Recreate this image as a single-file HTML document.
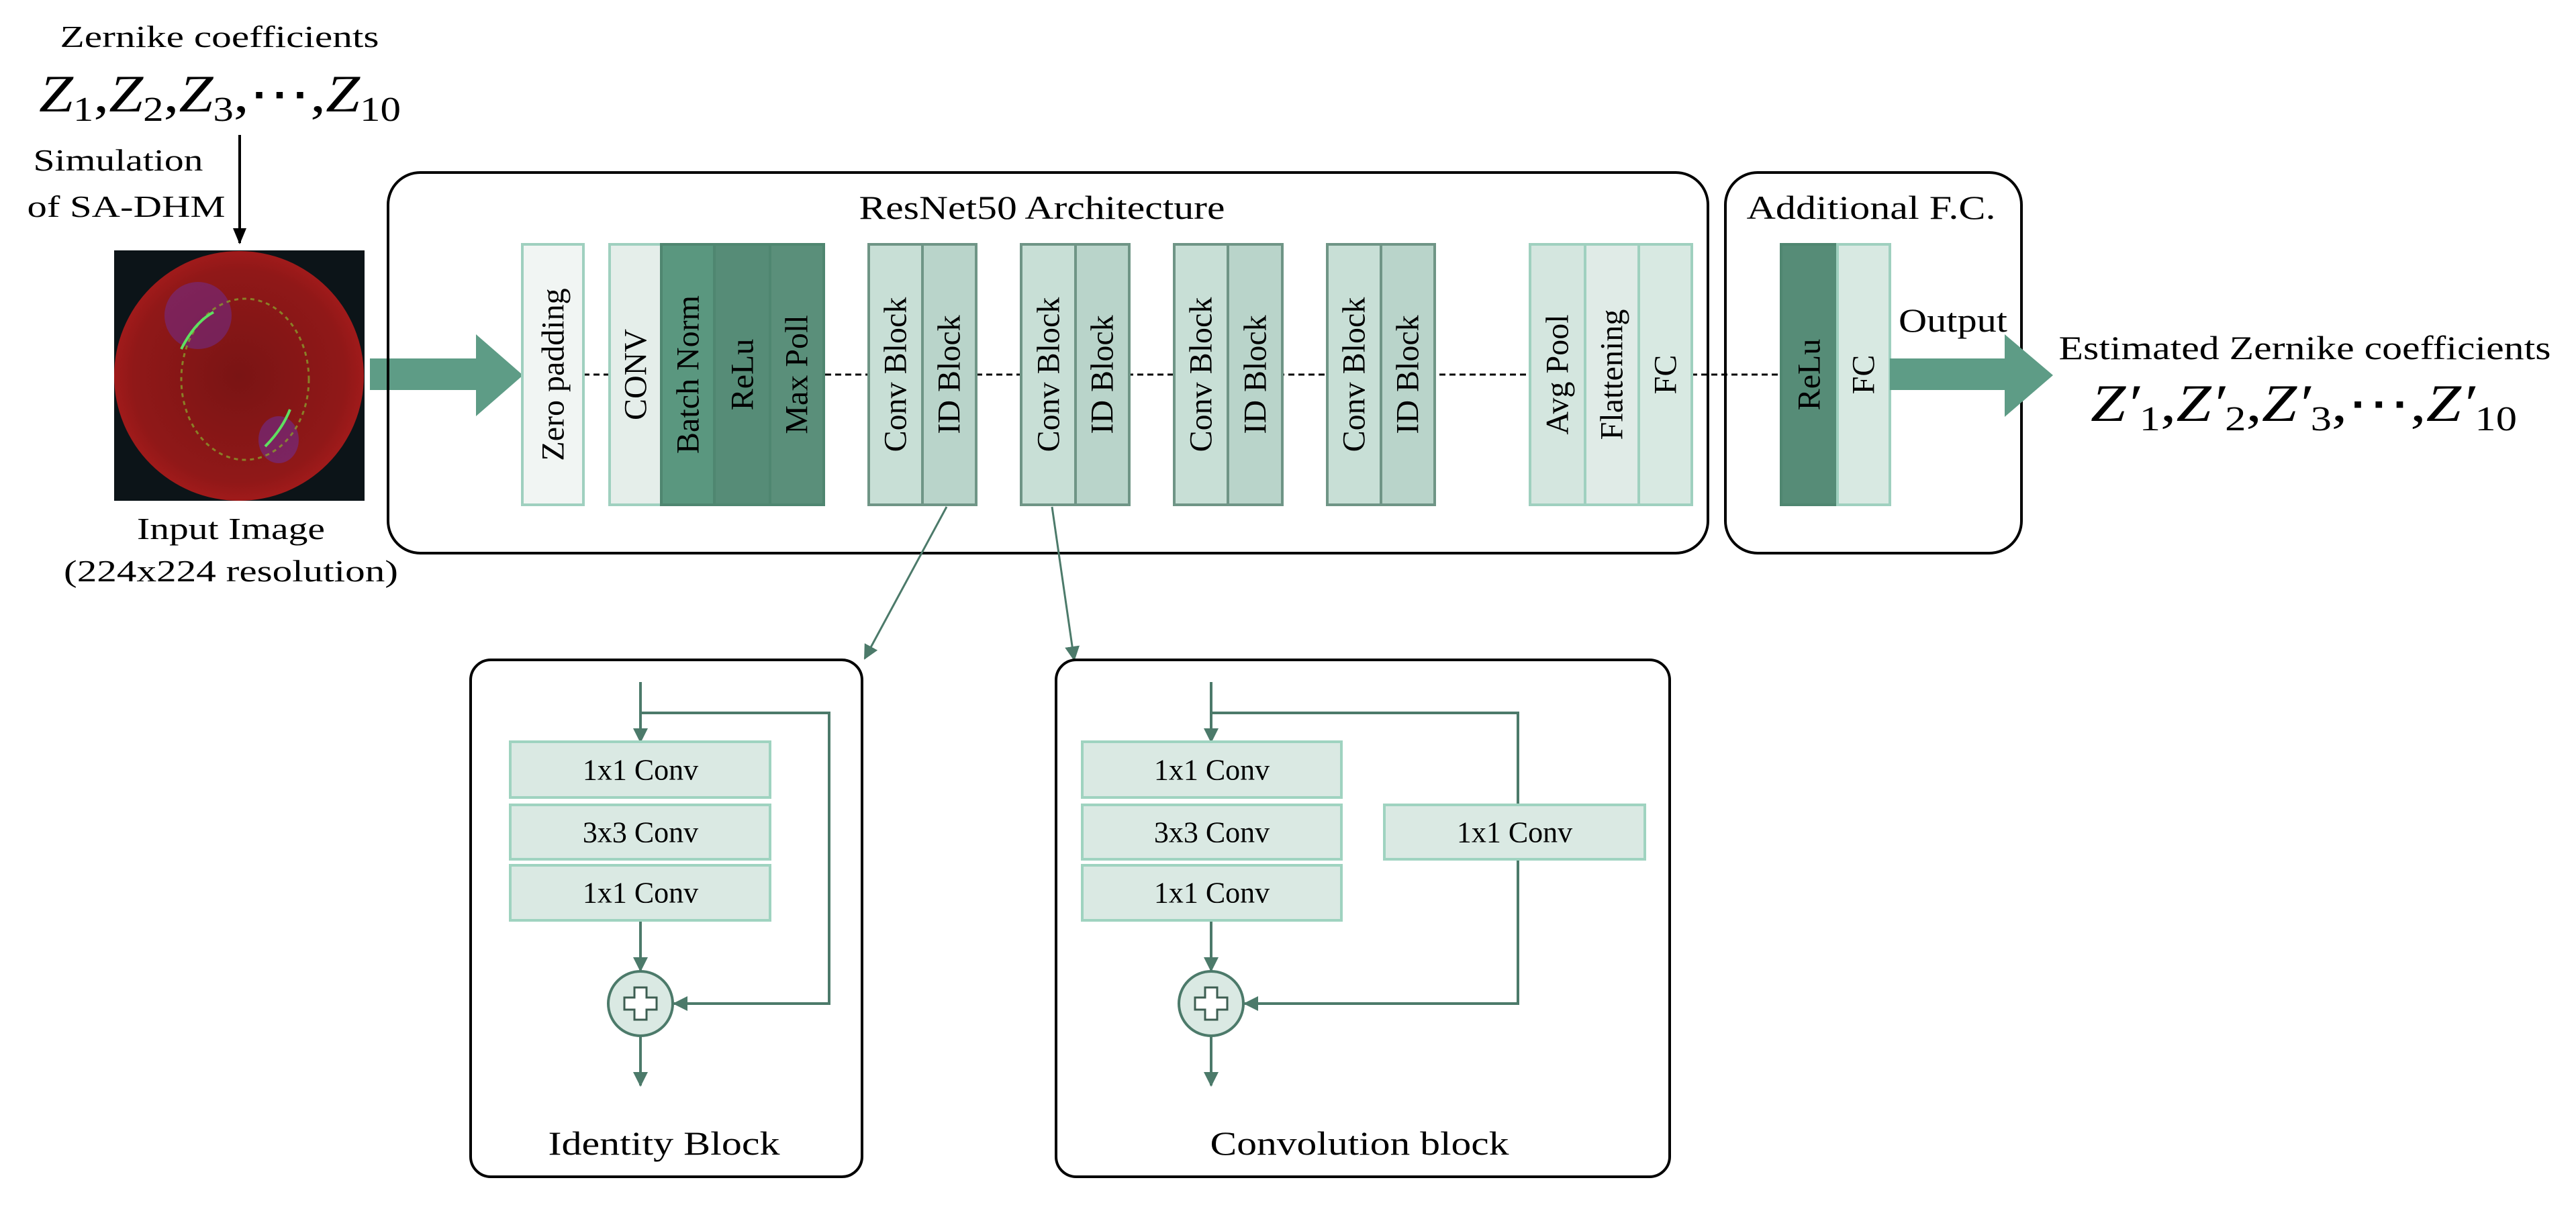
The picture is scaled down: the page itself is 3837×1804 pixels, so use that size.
<!DOCTYPE html>
<html><head><meta charset="utf-8"><style>html,body{margin:0;padding:0;background:#fff}svg{display:block}</style></head>
<body>
<svg width="3837" height="1804" viewBox="0 0 3837 1804" xmlns="http://www.w3.org/2000/svg" style="font-family:'Liberation Serif',serif">
<defs>
<marker id="ahb" markerWidth="22" markerHeight="22" refX="20" refY="11" orient="auto" markerUnits="userSpaceOnUse" viewBox="0 0 22 22"><path d="M0,0 L22,11 L0,22 z" fill="#4c7a6a"/></marker>
<marker id="ahk" markerWidth="24" markerHeight="24" refX="22" refY="12" orient="auto" markerUnits="userSpaceOnUse" viewBox="0 0 24 24"><path d="M0,2 L24,12 L0,22 z" fill="#000"/></marker>
<radialGradient id="rg" cx="50%" cy="50%" r="50%"><stop offset="0" stop-color="#7a1414"/><stop offset="0.85" stop-color="#901818"/><stop offset="1" stop-color="#a01a1a"/></radialGradient>
</defs>

<text x="327" y="70" font-size="46" text-anchor="middle" textLength="475" lengthAdjust="spacingAndGlyphs">Zernike coefficients</text>
<text x="58" y="166" font-size="78" textLength="539" lengthAdjust="spacingAndGlyphs"><tspan font-style="italic">Z</tspan><tspan font-size="52" dy="14">1</tspan><tspan dy="-14">,</tspan><tspan font-style="italic">Z</tspan><tspan font-size="52" dy="14">2</tspan><tspan dy="-14">,</tspan><tspan font-style="italic">Z</tspan><tspan font-size="52" dy="14">3</tspan><tspan dy="-14">,⋯,</tspan><tspan font-style="italic">Z</tspan><tspan font-size="52" dy="14">10</tspan></text>
<line x1="357" y1="201" x2="357" y2="362" stroke="#000" stroke-width="4" marker-end="url(#ahk)"/>
<text x="176" y="254" font-size="46" text-anchor="middle" textLength="253" lengthAdjust="spacingAndGlyphs">Simulation</text>
<text x="188" y="323" font-size="46" text-anchor="middle" textLength="295" lengthAdjust="spacingAndGlyphs">of SA-DHM</text>

<rect x="170" y="373" width="373" height="373" fill="#0c1418"/>
<ellipse cx="356" cy="560" rx="186" ry="186" fill="url(#rg)"/>
<ellipse cx="295" cy="470" rx="50" ry="50" fill="#6a30a8" opacity="0.45"/>
<ellipse cx="415" cy="655" rx="30" ry="35" fill="#6a30a8" opacity="0.5"/>
<ellipse cx="365" cy="565" rx="95" ry="120" fill="none" stroke="#8a9a2a" stroke-width="3" stroke-dasharray="6 6" opacity="0.8"/>
<path d="M270,520 Q290,480 318,465" fill="none" stroke="#5fe060" stroke-width="4"/>
<path d="M395,665 Q420,640 432,610" fill="none" stroke="#5fe060" stroke-width="4"/>
<text x="344" y="803" font-size="46" text-anchor="middle" textLength="280" lengthAdjust="spacingAndGlyphs">Input Image</text>
<text x="344" y="866" font-size="46" text-anchor="middle" textLength="498" lengthAdjust="spacingAndGlyphs">(224x224 resolution)</text>

<polygon points="551,534 709,534 709,498 779,559 709,620 709,581 551,581" fill="#5e9c86"/>

<rect x="578" y="257" width="1966" height="567" rx="48" fill="none" stroke="#000" stroke-width="4"/>
<rect x="2570" y="257" width="441" height="567" rx="48" fill="none" stroke="#000" stroke-width="4"/>
<text x="1552" y="326" font-size="50" text-anchor="middle" textLength="545" lengthAdjust="spacingAndGlyphs">ResNet50 Architecture</text>
<text x="2787" y="326" font-size="50" text-anchor="middle" textLength="371" lengthAdjust="spacingAndGlyphs">Additional F.C.</text>

<line x1="869" y1="558" x2="2653" y2="558" stroke="#000" stroke-width="3" stroke-dasharray="9 6"/>

<g stroke-width="4">
<rect x="778" y="364" width="91" height="388" fill="#f1f5f3" stroke="#9fd0bf"/>
<rect x="908" y="364" width="77" height="388" fill="#e5eeea" stroke="#9fd0bf"/>
<rect x="985" y="364" width="79" height="388" fill="#5a977f" stroke="#4f8670"/>
<rect x="1064" y="364" width="83" height="388" fill="#568c77" stroke="#4f8670"/>
<rect x="1147" y="364" width="80" height="388" fill="#5a8f7a" stroke="#4f8670"/>
<rect x="1294" y="364" width="80" height="388" fill="#c8dfd6" stroke="#6f9586"/>
<rect x="1374" y="364" width="80" height="388" fill="#b9d4ca" stroke="#6f9586"/>
<rect x="1521" y="364" width="81" height="388" fill="#c8dfd6" stroke="#6f9586"/>
<rect x="1602" y="364" width="80" height="388" fill="#b9d4ca" stroke="#6f9586"/>
<rect x="1749" y="364" width="80" height="388" fill="#c8dfd6" stroke="#6f9586"/>
<rect x="1829" y="364" width="81" height="388" fill="#b9d4ca" stroke="#6f9586"/>
<rect x="1977" y="364" width="80" height="388" fill="#c8dfd6" stroke="#6f9586"/>
<rect x="2057" y="364" width="80" height="388" fill="#b9d4ca" stroke="#6f9586"/>
<rect x="2279" y="364" width="82" height="388" fill="#d4e6df" stroke="#9fd0bf"/>
<rect x="2361" y="364" width="80" height="388" fill="#e0ebe7" stroke="#9fd0bf"/>
<rect x="2441" y="364" width="79" height="388" fill="#d8e9e2" stroke="#9fd0bf"/>
<rect x="2653" y="364" width="84" height="388" fill="#568c77" stroke="#4f8670"/>
<rect x="2737" y="364" width="78" height="388" fill="#d8e9e2" stroke="#9fd0bf"/>
</g>

<g font-size="48" text-anchor="middle" dominant-baseline="central">
<text transform="translate(824,558) rotate(-90)">Zero padding</text>
<text transform="translate(947,558) rotate(-90)">CONV</text>
<text transform="translate(1025,558) rotate(-90)">Batch Norm</text>
<text transform="translate(1106,558) rotate(-90)">ReLu</text>
<text transform="translate(1187,558) rotate(-90)">Max Poll</text>
<text transform="translate(1334,558) rotate(-90)">Conv Block</text>
<text transform="translate(1414,558) rotate(-90)">ID Block</text>
<text transform="translate(1562,558) rotate(-90)">Conv Block</text>
<text transform="translate(1642,558) rotate(-90)">ID Block</text>
<text transform="translate(1789,558) rotate(-90)">Conv Block</text>
<text transform="translate(1870,558) rotate(-90)">ID Block</text>
<text transform="translate(2017,558) rotate(-90)">Conv Block</text>
<text transform="translate(2097,558) rotate(-90)">ID Block</text>
<text transform="translate(2320,558) rotate(-90)">Avg Pool</text>
<text transform="translate(2401,558) rotate(-90)">Flattening</text>
<text transform="translate(2481,558) rotate(-90)">FC</text>
<text transform="translate(2695,558) rotate(-90)">ReLu</text>
<text transform="translate(2776,558) rotate(-90)">FC</text>
</g>

<polygon points="2815,534 2986,534 2986,498 3058,559 2986,621 2986,581 2815,581" fill="#5e9c86"/>
<text x="2909" y="494" font-size="50" text-anchor="middle" textLength="162" lengthAdjust="spacingAndGlyphs">Output</text>
<text x="3433" y="535" font-size="50" text-anchor="middle" textLength="733" lengthAdjust="spacingAndGlyphs">Estimated Zernike coefficients</text>
<text x="3114" y="627" font-size="78" textLength="635" lengthAdjust="spacingAndGlyphs"><tspan font-style="italic">Z′</tspan><tspan font-size="52" dy="14">1</tspan><tspan dy="-14">,</tspan><tspan font-style="italic">Z′</tspan><tspan font-size="52" dy="14">2</tspan><tspan dy="-14">,</tspan><tspan font-style="italic">Z′</tspan><tspan font-size="52" dy="14">3</tspan><tspan dy="-14">,⋯,</tspan><tspan font-style="italic">Z′</tspan><tspan font-size="52" dy="14">10</tspan></text>

<line x1="1410" y1="755" x2="1288" y2="981" stroke="#4c7a6a" stroke-width="3" marker-end="url(#ahb)"/>
<line x1="1567" y1="755" x2="1600" y2="983" stroke="#4c7a6a" stroke-width="3" marker-end="url(#ahb)"/>

<rect x="701" y="983" width="583" height="770" rx="30" fill="none" stroke="#000" stroke-width="4"/>
<rect x="1573" y="983" width="914" height="770" rx="30" fill="none" stroke="#000" stroke-width="4"/>

<g stroke="#4c7a6a" stroke-width="4" fill="none">
<line x1="954" y1="1016" x2="954" y2="1105" marker-end="url(#ahb)"/>
<polyline points="954,1062 1235,1062 1235,1495 1004,1495" marker-end="url(#ahb)"/>
<line x1="954" y1="1371" x2="954" y2="1446" marker-end="url(#ahb)"/>
<line x1="954" y1="1544" x2="954" y2="1617" marker-end="url(#ahb)"/>
<line x1="1804" y1="1016" x2="1804" y2="1105" marker-end="url(#ahb)"/>
<polyline points="1804,1062 2261,1062 2261,1199"/>
<polyline points="2261,1280 2261,1495 1854,1495" marker-end="url(#ahb)"/>
<line x1="1804" y1="1371" x2="1804" y2="1446" marker-end="url(#ahb)"/>
<line x1="1804" y1="1544" x2="1804" y2="1617" marker-end="url(#ahb)"/>
</g>

<g fill="#dae9e3" stroke="#9fd3c0" stroke-width="4">
<rect x="760" y="1105" width="387" height="83"/>
<rect x="760" y="1199" width="387" height="81"/>
<rect x="760" y="1289" width="387" height="82"/>
<rect x="1612" y="1105" width="386" height="83"/>
<rect x="1612" y="1199" width="386" height="81"/>
<rect x="1612" y="1289" width="386" height="82"/>
<rect x="2062" y="1199" width="388" height="81"/>
</g>
<g font-size="44" text-anchor="middle" dominant-baseline="central">
<text x="954" y="1147">1x1 Conv</text>
<text x="954" y="1240">3x3 Conv</text>
<text x="954" y="1330">1x1 Conv</text>
<text x="1805" y="1147">1x1 Conv</text>
<text x="1805" y="1240">3x3 Conv</text>
<text x="1805" y="1330">1x1 Conv</text>
<text x="2256" y="1240">1x1 Conv</text>
</g>

<circle cx="954" cy="1495" r="48" fill="#dae9e3" stroke="#4c7a6a" stroke-width="4"/>
<path d="M945,1471 h18 v15 h15 v18 h-15 v15 h-18 v-15 h-15 v-18 h15 z" fill="#fff" stroke="#3d5e52" stroke-width="3"/>
<circle cx="1804" cy="1495" r="48" fill="#dae9e3" stroke="#4c7a6a" stroke-width="4"/>
<path d="M1795,1471 h18 v15 h15 v18 h-15 v15 h-18 v-15 h-15 v-18 h15 z" fill="#fff" stroke="#3d5e52" stroke-width="3"/>

<text x="989" y="1720" font-size="50" text-anchor="middle" textLength="345" lengthAdjust="spacingAndGlyphs">Identity Block</text>
<text x="2025" y="1720" font-size="50" text-anchor="middle" textLength="445" lengthAdjust="spacingAndGlyphs">Convolution block</text>
</svg>
</body></html>
